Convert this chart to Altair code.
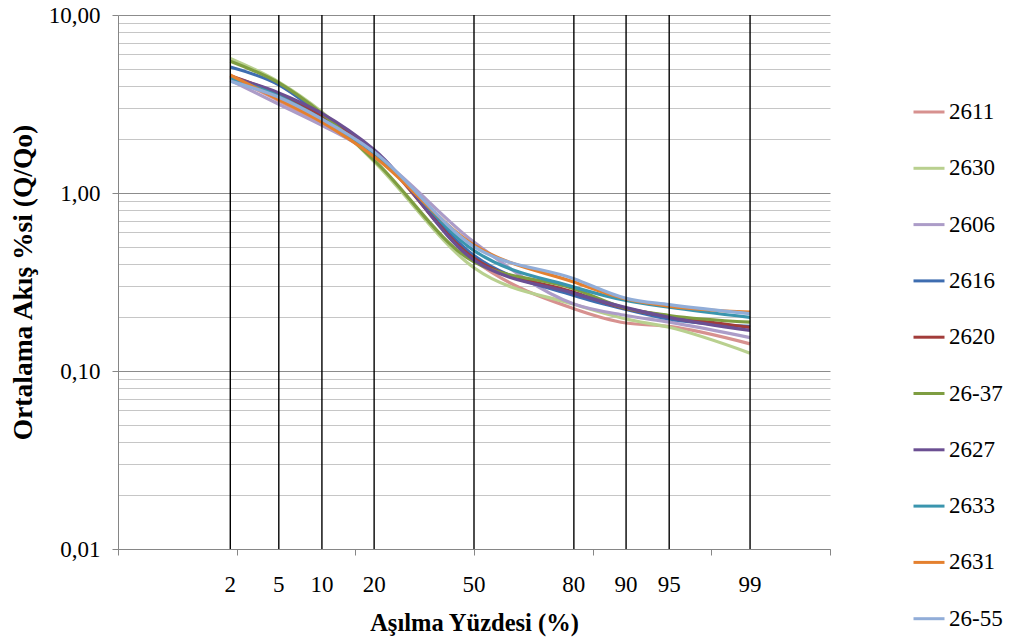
import altair as alt
import pandas as pd
from statistics import NormalDist

# Exceedance percentages (x categories) and their labels
percents = [2, 5, 10, 20, 50, 80, 90, 95, 99]
pct_labels = ["2", "5", "10", "20", "50", "80", "90", "95", "99"]

series_names = ["2611", "2630", "2606", "2616", "2620", "26-37", "2627", "2633", "2631", "26-55"]
series_colors = ["#D7918F", "#B9D08F", "#AC9CC8", "#3E6DB0", "#A23C3A",
                 "#7E9D41", "#6B4F92", "#3A95AE", "#E4802F", "#91ADD8"]

# Q/Qo values read at each exceedance percentage
s2611 = [4.50, 3.30, 2.45, 1.65, 0.420, 0.224, 0.186, 0.178, 0.142]
s2630 = [5.70, 4.20, 2.85, 1.50, 0.380, 0.237, 0.196, 0.176, 0.126]
s2606 = [4.30, 3.15, 2.40, 1.65, 0.530, 0.238, 0.205, 0.188, 0.154]
s2616 = [5.10, 4.05, 2.75, 1.72, 0.445, 0.266, 0.222, 0.196, 0.178]
s2620 = [4.55, 3.60, 2.70, 1.70, 0.430, 0.277, 0.224, 0.203, 0.176]
s2637 = [5.50, 4.15, 2.80, 1.53, 0.410, 0.290, 0.225, 0.205, 0.188]
s2627 = [4.50, 3.65, 2.80, 1.75, 0.420, 0.273, 0.227, 0.200, 0.169]
s2633 = [4.40, 3.50, 2.60, 1.68, 0.475, 0.296, 0.249, 0.228, 0.200]
s2631 = [4.60, 3.35, 2.50, 1.60, 0.510, 0.316, 0.254, 0.231, 0.214]
s2655 = [4.25, 3.45, 2.60, 1.70, 0.500, 0.330, 0.256, 0.236, 0.210]

all_series = [s2611, s2630, s2606, s2616, s2620, s2637, s2627, s2633, s2631, s2655]

# probability (normal quantile) position of each exceedance percentage
nd = NormalDist()
zpos = [nd.inv_cdf(p / 100.0) for p in percents]

rows = []
for order, (name, vals) in enumerate(zip(series_names, all_series)):
    for p, z, v in zip(percents, zpos, vals):
        rows.append({"series": name, "order": order, "pct": p, "z": z, "value": v})
df = pd.DataFrame(rows)

cat_df = pd.DataFrame({"pct": percents, "z": zpos, "label": pct_labels})

FONT = "Liberation Serif"
decade_test = "abs(log(datum.value)/LN10 - round(log(datum.value)/LN10)) < 0.001"
ytick_vals = [round(m * 10.0 ** e, 4) for e in (-2, -1, 0) for m in range(1, 10)] + [10.0]

xscale = alt.Scale(domain=[-3, 3], nice=False, zero=False)
yscale = alt.Scale(type="log", domain=[0.01, 10], nice=False)

lines = alt.Chart(df).mark_line(strokeWidth=3.2, interpolate="monotone").encode(
    x=alt.X("z:Q", scale=xscale,
            axis=alt.Axis(values=[-3, -2, -1, 0, 1, 2, 3], labels=False, grid=False,
                          tickSize=6, tickColor="#868686", domainColor="#868686",
                          title="Aşılma Yüzdesi (%)", titleFont=FONT, titleFontSize=24.5,
                          titleFontWeight="bold", titleColor="black", titlePadding=56)),
    y=alt.Y("value:Q", scale=yscale,
            axis=alt.Axis(values=ytick_vals, labelExpr=decade_test +
                          " ? replace(format(datum.value, '.2f'), '.', ',') : ''",
                          labelFont=FONT, labelFontSize=23, labelColor="black",
                          labelPadding=12, labelOverlap=False, labelBound=False,
                          tickSize=6, tickColor="#868686",
                          tickOpacity={"condition": {"test": decade_test, "value": 1}, "value": 0},
                          gridColor={"condition": {"test": decade_test, "value": "#8C8C8C"}, "value": "#C6C6C6"},
                          gridWidth=1, gridOpacity=1,
                          domainColor="#868686",
                          title="Ortalama Akış %si (Q/Qo)", titleFont=FONT, titleFontSize=27.5,
                          titleFontWeight="bold", titleColor="black", titlePadding=11)),
    color=alt.Color("series:N",
                    scale=alt.Scale(domain=series_names, range=series_colors),
                    legend=alt.Legend(title=None, orient="none", legendX=794, legendY=80,
                                      symbolType="stroke", symbolSize=961, symbolStrokeWidth=3,
                                      labelFont=FONT, labelFontSize=23, labelColor="black",
                                      labelOffset=3, rowPadding=27.3, padding=0)),
    order=alt.Order("pct:Q"),
    detail="series:N",
)

rules = alt.Chart(cat_df).mark_rule(color="black", strokeWidth=1.4).encode(
    x=alt.X("z:Q", scale=xscale),
)

xlabels = alt.Chart(cat_df).mark_text(font=FONT, fontSize=23, color="black",
                                      baseline="middle", align="center").encode(
    x=alt.X("z:Q", scale=xscale),
    y=alt.value(570),
    text="label:N",
)

chart = alt.layer(lines, rules, xlabels).properties(
    width=712, height=534,
    autosize=alt.AutoSizeParams(type="none"),
    padding={"left": 118, "top": 15, "right": 181, "bottom": 95},
    background="white",
).configure_view(stroke=None)

chart.save("out.html", embed_options={"renderer": "svg", "actions": False})
